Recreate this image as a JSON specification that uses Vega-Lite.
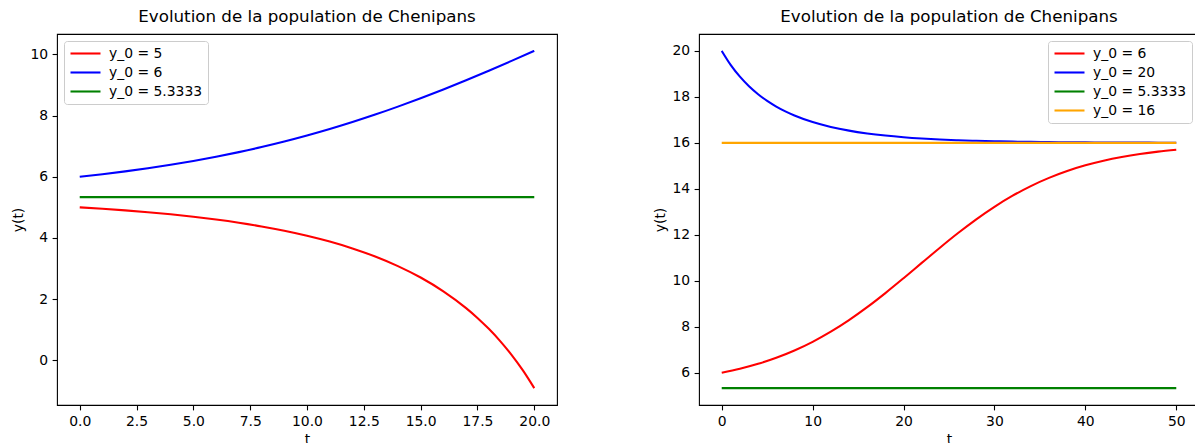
{
  "$schema": "https://vega.github.io/schema/vega-lite/v6.json",
  "autosize": {"type": "pad"},
  "padding": {"left": 11, "top": 8, "right": 0, "bottom": 0},
  "background": "white",
  "config": {
    "font": "DejaVu Sans",
    "view": {"stroke": "black", "strokeWidth": 1.1},
    "axis": {
      "grid": false, "domain": false,
      "tickColor": "black", "tickSize": 4.9, "tickWidth": 1.1,
      "labelFont": "DejaVu Sans", "labelFontSize": 13.9, "labelColor": "black", "labelPadding": 4.5,
      "titleFont": "DejaVu Sans", "titleFontSize": 13.9, "titleFontWeight": "normal", "titleColor": "black", "titlePadding": 4
    },
    "title": {"font": "DejaVu Sans", "fontSize": 16.7, "fontWeight": "normal", "color": "black", "offset": 8, "baseline": "alphabetic"},
    "legend": {
      "title": null, "offset": 7, "symbolType": "M-2.5,0H2.5", "symbolSize": 144, "symbolStrokeWidth": 2.08, "symbolOffset": 9,
      "labelFont": "DejaVu Sans", "labelFontSize": 13.9, "labelColor": "black", "labelOffset": 16, "labelLimit": 300,
      "padding": 5, "fillColor": "white", "strokeColor": "#cccccc", "cornerRadius": 3, "rowPadding": 4
    }
  },
  "bounds": "flush",
  "spacing": 142,
  "resolve": {"scale": {"color": "independent", "x": "independent", "y": "independent"}, "legend": {"color": "independent"}},
  "hconcat": [
    {
      "width": 500, "height": 371,
      "title": "Evolution de la population de Chenipans",
      "data": {"values": [
        {"serie": "y_0 = 5", "t": 0, "y": 5.0}, {"serie": "y_0 = 5", "t": 1, "y": 4.9542}, {"serie": "y_0 = 5", "t": 2, "y": 4.9015},
        {"serie": "y_0 = 5", "t": 3, "y": 4.8413}, {"serie": "y_0 = 5", "t": 4, "y": 4.7724}, {"serie": "y_0 = 5", "t": 5, "y": 4.6932},
        {"serie": "y_0 = 5", "t": 6, "y": 4.6022}, {"serie": "y_0 = 5", "t": 7, "y": 4.4973}, {"serie": "y_0 = 5", "t": 8, "y": 4.3759},
        {"serie": "y_0 = 5", "t": 9, "y": 4.2352}, {"serie": "y_0 = 5", "t": 10, "y": 4.0717}, {"serie": "y_0 = 5", "t": 11, "y": 3.8808},
        {"serie": "y_0 = 5", "t": 12, "y": 3.657}, {"serie": "y_0 = 5", "t": 13, "y": 3.3933}, {"serie": "y_0 = 5", "t": 14, "y": 3.0804},
        {"serie": "y_0 = 5", "t": 15, "y": 2.7065}, {"serie": "y_0 = 5", "t": 16, "y": 2.2558}, {"serie": "y_0 = 5", "t": 17, "y": 1.7069},
        {"serie": "y_0 = 5", "t": 17.5, "y": 1.3868}, {"serie": "y_0 = 5", "t": 18, "y": 1.0291}, {"serie": "y_0 = 5", "t": 18.5, "y": 0.6296},
        {"serie": "y_0 = 5", "t": 19, "y": 0.1791}, {"serie": "y_0 = 5", "t": 19.5, "y": -0.3294}, {"serie": "y_0 = 5", "t": 20, "y": -0.9089},
        {"serie": "y_0 = 6", "t": 0, "y": 6.0}, {"serie": "y_0 = 6", "t": 1, "y": 6.0825}, {"serie": "y_0 = 6", "t": 2, "y": 6.1744},
        {"serie": "y_0 = 6", "t": 3, "y": 6.2765}, {"serie": "y_0 = 6", "t": 4, "y": 6.3895}, {"serie": "y_0 = 6", "t": 5, "y": 6.5147},
        {"serie": "y_0 = 6", "t": 6, "y": 6.6524}, {"serie": "y_0 = 6", "t": 7, "y": 6.8041}, {"serie": "y_0 = 6", "t": 8, "y": 6.9698},
        {"serie": "y_0 = 6", "t": 9, "y": 7.1507}, {"serie": "y_0 = 6", "t": 10, "y": 7.3468}, {"serie": "y_0 = 6", "t": 11, "y": 7.5588},
        {"serie": "y_0 = 6", "t": 12, "y": 7.7872}, {"serie": "y_0 = 6", "t": 13, "y": 8.0311}, {"serie": "y_0 = 6", "t": 14, "y": 8.2909},
        {"serie": "y_0 = 6", "t": 15, "y": 8.5652}, {"serie": "y_0 = 6", "t": 16, "y": 8.8536}, {"serie": "y_0 = 6", "t": 17, "y": 9.1544},
        {"serie": "y_0 = 6", "t": 18, "y": 9.4661}, {"serie": "y_0 = 6", "t": 19, "y": 9.7866}, {"serie": "y_0 = 6", "t": 20, "y": 10.1139},
        {"serie": "y_0 = 5.3333", "t": 0, "y": 5.3333}, {"serie": "y_0 = 5.3333", "t": 20, "y": 5.3333}
      ]},
      "mark": {"type": "line", "strokeWidth": 2.08, "interpolate": "monotone"},
      "encoding": {
        "x": {"field": "t", "type": "quantitative",
              "scale": {"domain": [-1, 21], "nice": false, "zero": false},
              "axis": {"values": [0, 2.5, 5, 7.5, 10, 12.5, 15, 17.5, 20], "format": ".1f", "title": "t"}},
        "y": {"field": "y", "type": "quantitative",
              "scale": {"domain": [-1.46, 10.665], "nice": false, "zero": false},
              "axis": {"values": [0, 2, 4, 6, 8, 10], "title": "y(t)"}},
        "color": {"field": "serie", "type": "nominal",
                  "scale": {"domain": ["y_0 = 5", "y_0 = 6", "y_0 = 5.3333"], "range": ["#ff0000", "#0000ff", "#008000"]},
                  "legend": {"orient": "top-left"}}
      }
    },
    {
      "width": 500, "height": 371,
      "title": "Evolution de la population de Chenipans",
      "data": {"values": [
        {"serie": "y_0 = 6", "t": 0, "y": 6.0}, {"serie": "y_0 = 6", "t": 2, "y": 6.1744}, {"serie": "y_0 = 6", "t": 4, "y": 6.3895},
        {"serie": "y_0 = 6", "t": 6, "y": 6.6524}, {"serie": "y_0 = 6", "t": 8, "y": 6.9698}, {"serie": "y_0 = 6", "t": 10, "y": 7.3468},
        {"serie": "y_0 = 6", "t": 12, "y": 7.7872}, {"serie": "y_0 = 6", "t": 14, "y": 8.2909}, {"serie": "y_0 = 6", "t": 16, "y": 8.8536},
        {"serie": "y_0 = 6", "t": 18, "y": 9.4661}, {"serie": "y_0 = 6", "t": 20, "y": 10.1139}, {"serie": "y_0 = 6", "t": 22, "y": 10.7785},
        {"serie": "y_0 = 6", "t": 24, "y": 11.4397}, {"serie": "y_0 = 6", "t": 26, "y": 12.0775}, {"serie": "y_0 = 6", "t": 28, "y": 12.6746},
        {"serie": "y_0 = 6", "t": 30, "y": 13.2184}, {"serie": "y_0 = 6", "t": 32, "y": 13.7011}, {"serie": "y_0 = 6", "t": 34, "y": 14.12},
        {"serie": "y_0 = 6", "t": 36, "y": 14.4764}, {"serie": "y_0 = 6", "t": 38, "y": 14.7747}, {"serie": "y_0 = 6", "t": 40, "y": 15.0209},
        {"serie": "y_0 = 6", "t": 42, "y": 15.2217}, {"serie": "y_0 = 6", "t": 44, "y": 15.3839}, {"serie": "y_0 = 6", "t": 46, "y": 15.514},
        {"serie": "y_0 = 6", "t": 48, "y": 15.6176}, {"serie": "y_0 = 6", "t": 50, "y": 15.6998},
        {"serie": "y_0 = 20", "t": 0, "y": 20.0}, {"serie": "y_0 = 20", "t": 1, "y": 19.3812}, {"serie": "y_0 = 20", "t": 2, "y": 18.8767},
        {"serie": "y_0 = 20", "t": 3, "y": 18.4606}, {"serie": "y_0 = 20", "t": 4, "y": 18.1142}, {"serie": "y_0 = 20", "t": 5, "y": 17.8233},
        {"serie": "y_0 = 20", "t": 6, "y": 17.5774}, {"serie": "y_0 = 20", "t": 7, "y": 17.3682}, {"serie": "y_0 = 20", "t": 8, "y": 17.1895},
        {"serie": "y_0 = 20", "t": 10, "y": 16.9041}, {"serie": "y_0 = 20", "t": 12, "y": 16.6912}, {"serie": "y_0 = 20", "t": 14, "y": 16.5307},
        {"serie": "y_0 = 20", "t": 16, "y": 16.4088}, {"serie": "y_0 = 20", "t": 18, "y": 16.3157}, {"serie": "y_0 = 20", "t": 20, "y": 16.2443},
        {"serie": "y_0 = 20", "t": 22, "y": 16.1893}, {"serie": "y_0 = 20", "t": 24, "y": 16.1468}, {"serie": "y_0 = 20", "t": 26, "y": 16.114},
        {"serie": "y_0 = 20", "t": 28, "y": 16.0886}, {"serie": "y_0 = 20", "t": 30, "y": 16.0689}, {"serie": "y_0 = 20", "t": 32, "y": 16.0535},
        {"serie": "y_0 = 20", "t": 34, "y": 16.0417}, {"serie": "y_0 = 20", "t": 36, "y": 16.0324}, {"serie": "y_0 = 20", "t": 38, "y": 16.0252},
        {"serie": "y_0 = 20", "t": 40, "y": 16.0196}, {"serie": "y_0 = 20", "t": 42, "y": 16.0153}, {"serie": "y_0 = 20", "t": 44, "y": 16.0119},
        {"serie": "y_0 = 20", "t": 46, "y": 16.0093}, {"serie": "y_0 = 20", "t": 48, "y": 16.0072}, {"serie": "y_0 = 20", "t": 50, "y": 16.0056},
        {"serie": "y_0 = 5.3333", "t": 0, "y": 5.3333}, {"serie": "y_0 = 5.3333", "t": 50, "y": 5.3333},
        {"serie": "y_0 = 16", "t": 0, "y": 16.0}, {"serie": "y_0 = 16", "t": 50, "y": 16.0}
      ]},
      "mark": {"type": "line", "strokeWidth": 2.08, "interpolate": "monotone"},
      "encoding": {
        "x": {"field": "t", "type": "quantitative",
              "scale": {"domain": [-2.5, 52.5], "nice": false, "zero": false},
              "axis": {"values": [0, 10, 20, 30, 40, 50], "title": "t"}},
        "y": {"field": "y", "type": "quantitative",
              "scale": {"domain": [4.6, 20.7333], "nice": false, "zero": false},
              "axis": {"values": [6, 8, 10, 12, 14, 16, 18, 20], "title": "y(t)"}},
        "color": {"field": "serie", "type": "nominal",
                  "scale": {"domain": ["y_0 = 6", "y_0 = 20", "y_0 = 5.3333", "y_0 = 16"], "range": ["#ff0000", "#0000ff", "#008000", "#ffa500"]},
                  "legend": {"orient": "top-right"}}
      }
    }
  ]
}
